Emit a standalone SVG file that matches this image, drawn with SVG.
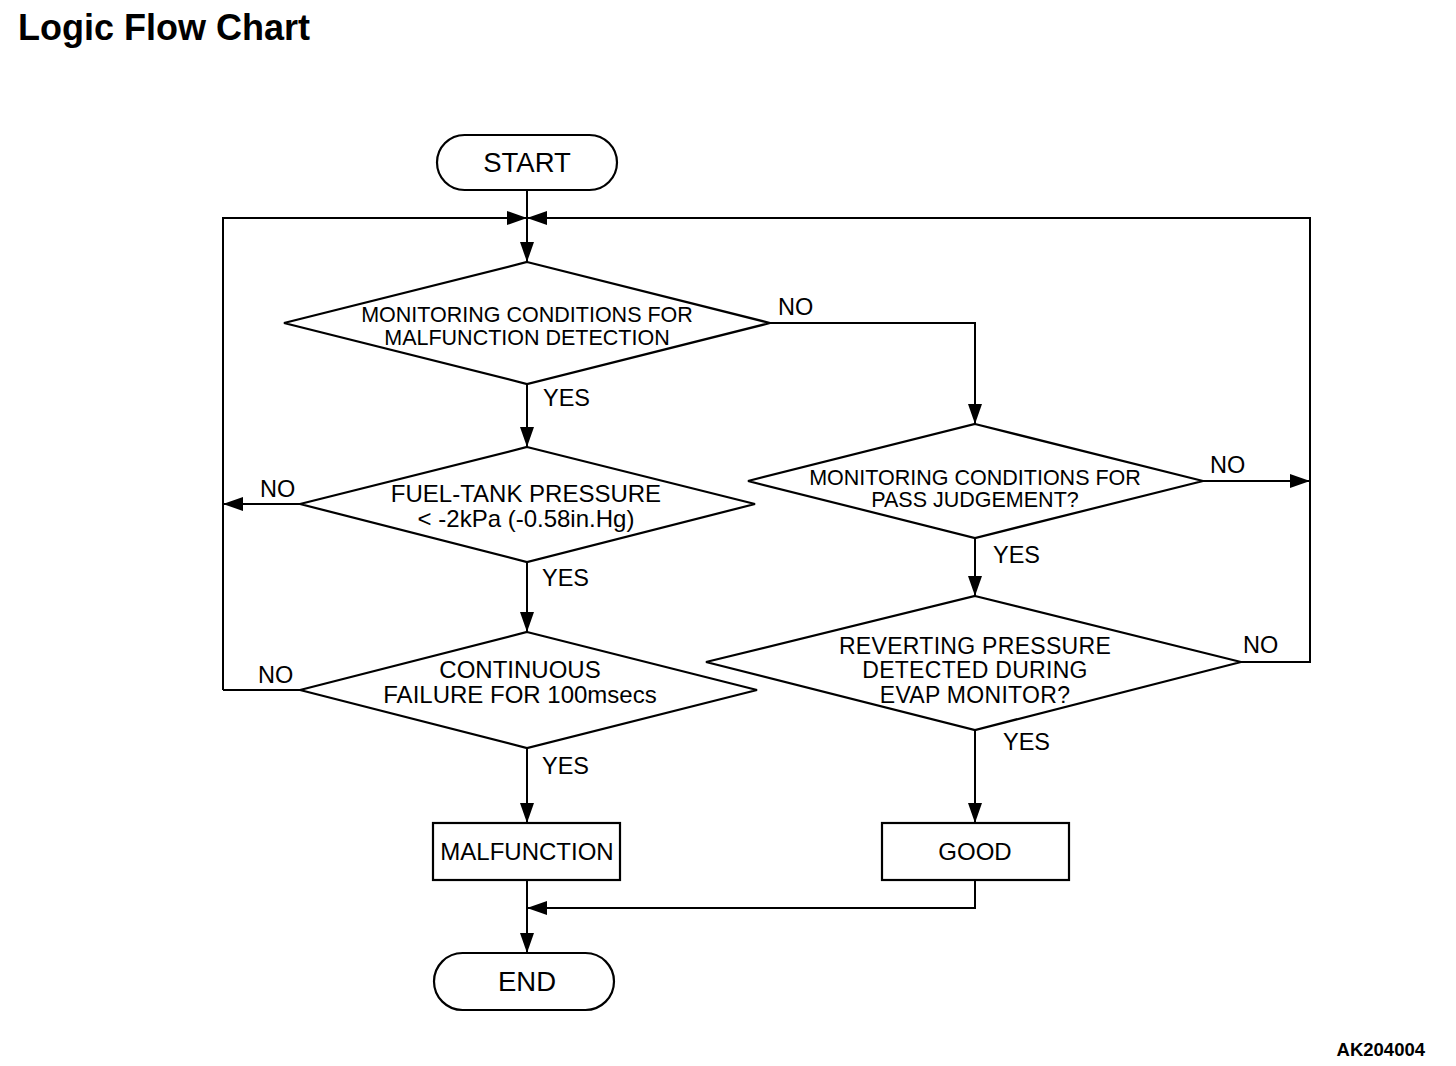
<svg xmlns="http://www.w3.org/2000/svg" width="1456" height="1066" viewBox="0 0 1456 1066">
<style>
.shape{fill:#fff;stroke:#000;stroke-width:2.2}
.line{fill:none;stroke:#000;stroke-width:2}
text{font-family:"Liberation Sans",Arial,sans-serif;fill:#000}
.t{font-size:24px;text-anchor:middle}
.t3{font-size:23px;letter-spacing:0.3px;text-anchor:middle}
.s{font-size:21.5px;text-anchor:middle}
.lbl{font-size:23.5px}
.term{font-size:27.5px;text-anchor:middle}
</style>
<defs>
<marker id="arr" markerUnits="userSpaceOnUse" viewBox="0 0 20 14" markerWidth="20" markerHeight="14" refX="20" refY="7" orient="auto">
<path d="M0,0 L20,7 L0,14 z" fill="#000"/>
</marker>
</defs>
<rect width="1456" height="1066" fill="#fff"/>
<text x="18" y="40" style="font-size:36px;font-weight:bold">Logic Flow Chart</text>
<text x="1425" y="1056" style="font-size:18.5px;font-weight:bold;text-anchor:end">AK204004</text>

<g id="connectors">
<path class="line" d="M527,190 V262" marker-end="url(#arr)"/>
<path class="line" d="M223,690 V218 H527" marker-end="url(#arr)"/>
<path class="line" d="M1241,662 H1310 V218 H527" marker-end="url(#arr)"/>
<path class="line" d="M527,384 V447" marker-end="url(#arr)"/>
<path class="line" d="M770,323 H975 V424" marker-end="url(#arr)"/>
<path class="line" d="M300,504 H223" marker-end="url(#arr)"/>
<path class="line" d="M527,562 V632" marker-end="url(#arr)"/>
<path class="line" d="M300,690 H223"/>
<path class="line" d="M527,748 V823" marker-end="url(#arr)"/>
<path class="line" d="M527,880 V953" marker-end="url(#arr)"/>
<path class="line" d="M975,880 V908 H527" marker-end="url(#arr)"/>
<path class="line" d="M1203,481 H1310" marker-end="url(#arr)"/>
<path class="line" d="M975,538 V596" marker-end="url(#arr)"/>
<path class="line" d="M975,730 V823" marker-end="url(#arr)"/>
<text class="lbl" x="778" y="315">NO</text>
<text class="lbl" x="543" y="406">YES</text>
<text class="lbl" x="260" y="497">NO</text>
<text class="lbl" x="542" y="586">YES</text>
<text class="lbl" x="258" y="683">NO</text>
<text class="lbl" x="542" y="774">YES</text>
<text class="lbl" x="1210" y="473">NO</text>
<text class="lbl" x="993" y="563">YES</text>
<text class="lbl" x="1243" y="653">NO</text>
<text class="lbl" x="1003" y="750">YES</text>
</g>

<g id="start">
<rect class="shape" x="437" y="135" width="180" height="55" rx="27.5"/>
<text class="term" x="527" y="172">START</text>
</g>

<g id="d1">
<polygon class="shape" points="527,262 770,323 527,384 284,323"/>
<text class="s" x="527" y="322">MONITORING CONDITIONS FOR</text>
<text class="s" x="527" y="345">MALFUNCTION DETECTION</text>
</g>

<g id="d2">
<polygon class="shape" points="527,447 755,504 527,562 300,504"/>
<text class="t" x="526" y="502">FUEL-TANK PRESSURE</text>
<text class="t" x="526" y="527">&lt; -2kPa (-0.58in.Hg)</text>
</g>

<g id="d3">
<polygon class="shape" points="527,632 757,690 527,748 300,690"/>
<text class="t" x="520" y="678">CONTINUOUS</text>
<text class="t" x="520" y="703">FAILURE FOR 100msecs</text>
</g>

<g id="malfunction">
<rect class="shape" x="433" y="823" width="187" height="57"/>
<text class="t" x="527" y="860">MALFUNCTION</text>
</g>

<g id="end">
<rect class="shape" x="434" y="953" width="180" height="57" rx="28.5"/>
<text class="term" x="527" y="991">END</text>
</g>

<g id="d4">
<polygon class="shape" points="975,424 1203,481 975,538 748,481"/>
<text class="s" x="975" y="485">MONITORING CONDITIONS FOR</text>
<text class="s" x="975" y="507">PASS JUDGEMENT?</text>
</g>

<g id="d5">
<polygon class="shape" points="975,596 1241,662 975,730 706,662"/>
<text class="t3" x="975" y="654">REVERTING PRESSURE</text>
<text class="t3" x="975" y="678">DETECTED DURING</text>
<text class="t3" x="975" y="703">EVAP MONITOR?</text>
</g>

<g id="good">
<rect class="shape" x="882" y="823" width="187" height="57"/>
<text class="t" x="975" y="860">GOOD</text>
</g>
</svg>
